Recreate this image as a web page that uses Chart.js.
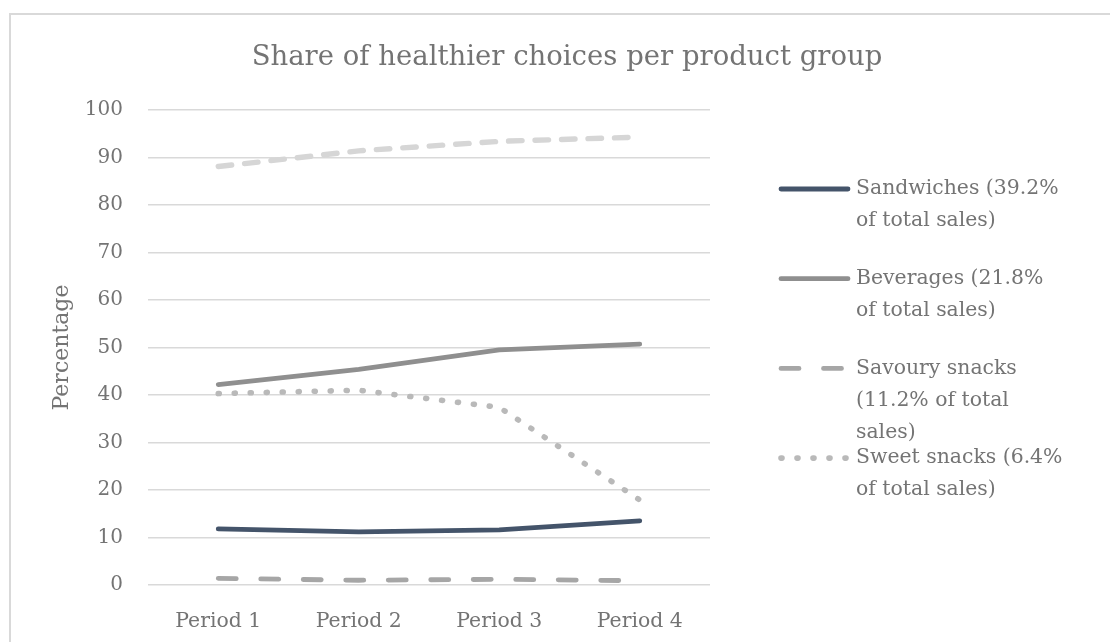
<!DOCTYPE html>
<html>
<head>
<meta charset="utf-8">
<script src="https://cdn.jsdelivr.net/npm/chart.js@4/dist/chart.umd.min.js"></script>
<style>
  html, body { margin: 0; padding: 0; background: #fff; }
</style>
</head>
<body>
<canvas id="shareChart" width="1110" height="642"></canvas>
<script>
const periods = ['Period 1', 'Period 2', 'Period 3', 'Period 4'];
const sandwiches = [11.8, 11.2, 11.6, 13.5];
const beverages = [42.2, 45.4, 49.5, 50.7];
const savourySnacks = [1.4, 1.0, 1.2, 0.9];
const sweetSnacks = [40.3, 41.0, 37.4, 17.9];
const topLine = [88.1, 91.4, 93.4, 94.3];   // drawn in the chart, not listed in the legend
const yTicks = [0, 10, 20, 30, 40, 50, 60, 70, 80, 90, 100];

const titleText = 'Share of healthier choices per product group';
const sandwichLabel = ['Sandwiches (39.2%', 'of total sales)'];
const beverageLabel = ['Beverages (21.8%', 'of total sales)'];
const savouryLabel = ['Savoury snacks', '(11.2% of total', 'sales)'];
const sweetLabel = ['Sweet snacks (6.4%', 'of total sales)'];

const FONT = '"DejaVu Serif", "Liberation Serif", serif';
const TEXT = '#747474';

// border, title and the wrapped legend on the right
const decor = {
  id: 'decor',
  beforeDraw(chart) {
    const c = chart.ctx;
    c.save();
    c.strokeStyle = '#d9d9d9';
    c.lineWidth = 2;
    c.beginPath();
    c.moveTo(10, chart.height);
    c.lineTo(10, 14);
    c.lineTo(chart.width, 14);
    c.stroke();
    c.restore();
  },
  afterDraw(chart) {
    const c = chart.ctx;
    c.save();
    c.fillStyle = TEXT;
    c.font = '27.5px ' + FONT;
    c.textAlign = 'center';
    c.textBaseline = 'middle';
    c.fillText(titleText, 567, 58);

    c.font = '20.4px ' + FONT;
    c.textAlign = 'left';
    let y = 189;
    chart.data.datasets.forEach(ds => {
      if (!ds.legendLines) return;
      c.strokeStyle = ds.borderColor;
      c.lineWidth = ds.borderWidth;
      c.lineCap = 'round';
      c.setLineDash(ds.borderDash || []);
      c.beginPath();
      c.moveTo(781, y);
      c.lineTo(848, y);
      c.stroke();
      c.setLineDash([]);
      ds.legendLines.forEach((t, i) => c.fillText(t, 856, y + i * 32));
      y += 89.7;
    });
    c.restore();
  }
};

function series(label, data, color, width, dash, lines) {
  return {
    label: label,
    data: data,
    borderColor: color,
    backgroundColor: color,
    borderWidth: width,
    borderDash: dash,
    borderCapStyle: 'round',
    borderJoinStyle: 'round',
    pointRadius: 0,
    tension: 0,
    fill: false,
    legendLines: lines
  };
}

new Chart(document.getElementById('shareChart').getContext('2d'), {
  type: 'line',
  data: {
    labels: periods,
    datasets: [
      series(sandwichLabel.join(' '), sandwiches, '#44546a', 4.8, [], sandwichLabel),
      series(beverageLabel.join(' '), beverages, '#8f8f8f', 4.8, [], beverageLabel),
      series(savouryLabel.join(' '), savourySnacks, '#a6a6a6', 4.8, [18, 24.5], savouryLabel),
      series(sweetLabel.join(' '), sweetSnacks, '#b9b9b9', 5.6, [1, 15], sweetLabel),
      series('Total', topLine, '#d6d6d6', 5.4, [13.5, 13], null)
    ]
  },
  options: {
    responsive: false,
    animation: false,
    devicePixelRatio: 1,
    layout: { padding: { left: 12, right: 400, top: 110, bottom: 0 } },
    plugins: {
      legend: { display: false },
      title: { display: false },
      tooltip: { enabled: false }
    },
    scales: {
      x: {
        offset: true,
        grid: { display: false },
        border: { display: false },
        ticks: { color: TEXT, font: { family: FONT, size: 20.4 }, padding: 16 },
        afterFit(s) { s.height = 57; }
      },
      y: {
        min: 0,
        max: 100,
        afterBuildTicks(s) { s.ticks = yTicks.map(v => ({ value: v })); },
        grid: { color: '#d9d9d9', lineWidth: 1.5, drawTicks: false },
        border: { display: false },
        ticks: { color: TEXT, font: { family: FONT, size: 20 }, padding: 25 },
        title: {
          display: true,
          text: 'Percentage',
          color: TEXT,
          font: { family: FONT, size: 22 },
          padding: { top: 37, bottom: 0 }
        },
        afterFit(s) { s.width = 136; }
      }
    }
  },
  plugins: [decor]
});
</script>
</body>
</html>
